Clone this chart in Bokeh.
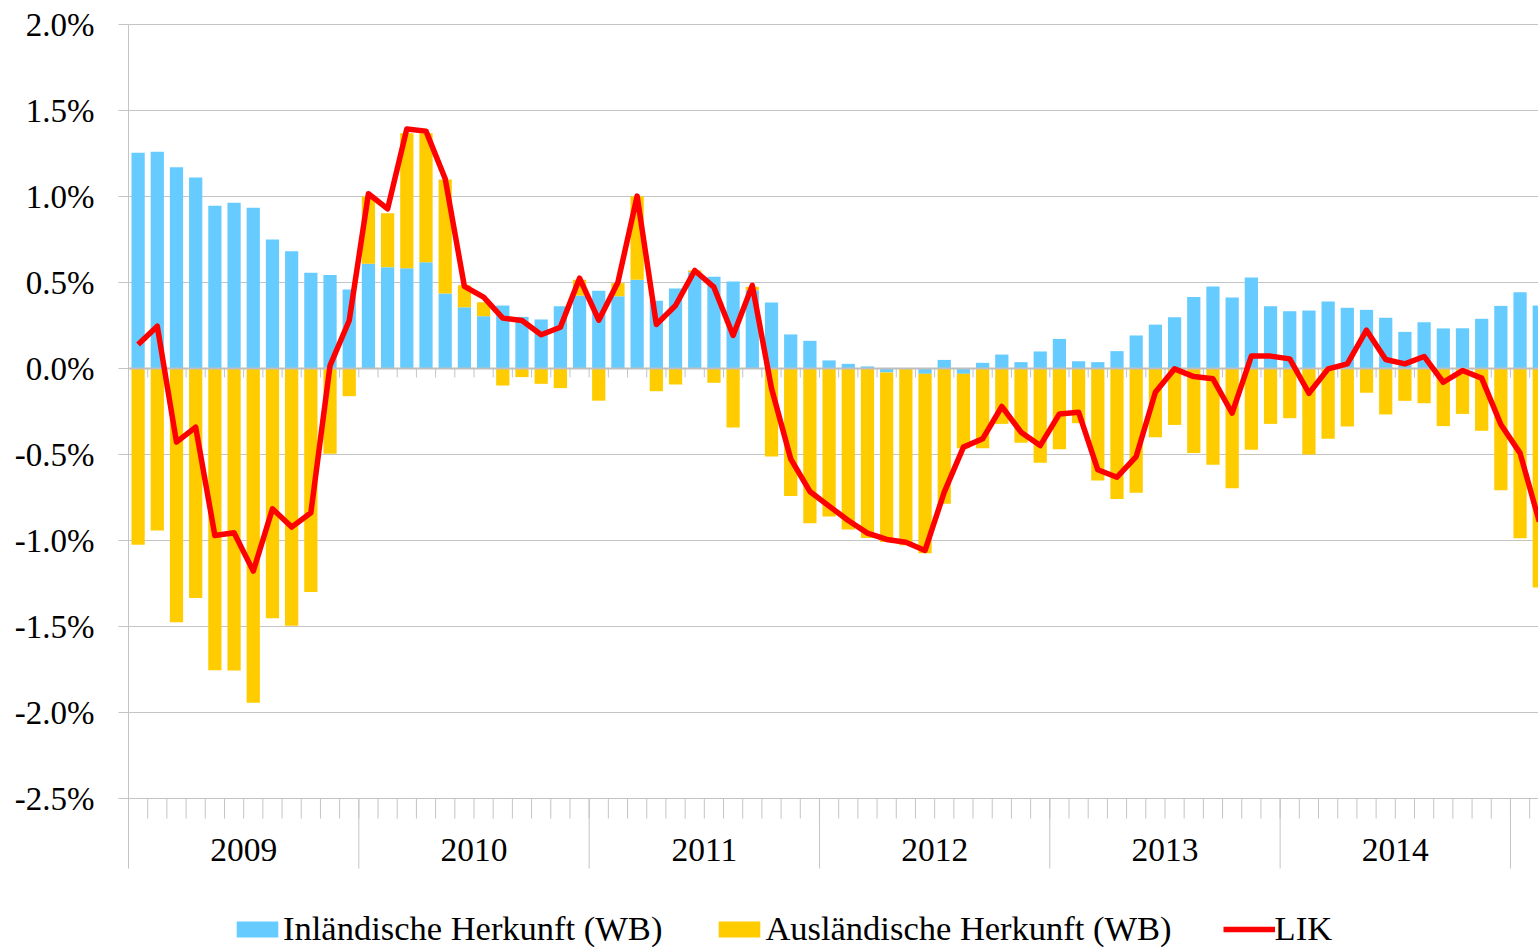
import numpy as np
from bokeh.plotting import figure
from bokeh.models import Range1d, FixedTicker, PrintfTickFormatter, Legend, LegendItem
from bokeh.core.properties import value
from bokeh.embed import file_html
from bokeh.resources import INLINE

# ---------------- data (monthly, Jan 2009 .. Feb 2015, in %) ----------------
years = ["2009", "2010", "2011", "2012", "2013", "2014"]

domestic = [  # Inländische Herkunft (WB)
    1.254, 1.260, 1.170, 1.110, 0.946, 0.963, 0.934, 0.750, 0.682, 0.556, 0.543, 0.459,
    0.609, 0.589, 0.583, 0.618, 0.436, 0.356, 0.304, 0.366, 0.300, 0.285, 0.362, 0.424,
    0.452, 0.420, 0.516, 0.394, 0.465, 0.560, 0.533, 0.506, 0.455, 0.384, 0.198, 0.161,
    0.047, 0.027, 0.012, -0.023, 0.000, -0.031, 0.050, -0.031, 0.033, 0.081, 0.037, 0.099,
    0.172, 0.042, 0.037, 0.101, 0.192, 0.255, 0.298, 0.415, 0.477, 0.413, 0.529, 0.362,
    0.333, 0.337, 0.390, 0.353, 0.341, 0.295, 0.213, 0.269, 0.233, 0.234, 0.289, 0.364,
    0.444, 0.366,
]

foreign = [  # Ausländische Herkunft (WB)
    -1.025, -0.942, -1.475, -1.335, -1.754, -1.756, -1.944, -1.452, -1.496, -1.300, -0.496, -0.161,
    0.391, 0.314, 0.785, 0.750, 0.663, 0.128, 0.081, -0.099, -0.050, -0.089, -0.114, 0.092,
    -0.187, 0.076, 0.486, -0.132, -0.093, 0.010, -0.083, -0.343, 0.020, -0.512, -0.742, -0.899,
    -0.860, -0.936, -0.985, -0.985, -1.027, -1.043, -0.787, -0.432, -0.463, -0.322, -0.432, -0.548,
    -0.469, -0.318, -0.651, -0.758, -0.723, -0.399, -0.328, -0.492, -0.560, -0.696, -0.473, -0.322,
    -0.289, -0.500, -0.409, -0.337, -0.141, -0.267, -0.188, -0.202, -0.335, -0.264, -0.362, -0.708,
    -0.987, -1.273,
]

lik = [  # LIK
    0.140, 0.246, -0.428, -0.341, -0.971, -0.955, -1.178, -0.816, -0.922, -0.839, 0.017, 0.279,
    1.016, 0.928, 1.393, 1.380, 1.103, 0.477, 0.415, 0.293, 0.279, 0.196, 0.240, 0.525,
    0.281, 0.502, 1.002, 0.256, 0.366, 0.570, 0.473, 0.192, 0.483, -0.115, -0.525, -0.715,
    -0.800, -0.884, -0.957, -0.994, -1.010, -1.058, -0.719, -0.457, -0.409, -0.221, -0.370, -0.448,
    -0.264, -0.254, -0.589, -0.632, -0.512, -0.138, -0.002, -0.047, -0.060, -0.260, 0.072, 0.072,
    0.056, -0.144, -0.002, 0.027, 0.223, 0.052, 0.027, 0.070, -0.080, -0.012, -0.056, -0.326,
    -0.492, -0.890,
]

ytick_values = [-2.5, -2.0, -1.5, -1.0, -0.5, 0.0, 0.5, 1.0, 1.5, 2.0]
legend_labels = ["Inländische Herkunft (WB)", "Ausländische Herkunft (WB)", "LIK"]

# ---------------- styles / layout ----------------
BLUE, YELLOW, RED = "#66CCFF", "#FFCC00", "#FF0000"
GRID = "#C4C4C4"
FONT = "Liberation Serif"
PX_PER_UNIT = 172.0          # pixels per 1 %-point
PX_PER_MONTH = 19.194
FIG_W, FIG_H = 1538, 947
LEFT_PAD, TOP_PAD = 128, 22
FRAME_W = FIG_W - LEFT_PAD
X_END = FRAME_W / PX_PER_MONTH
Y_END = ytick_values[-1] + 2 / PX_PER_UNIT
Y_START = Y_END - (FIG_H - TOP_PAD) / PX_PER_UNIT
AX_BOTTOM = ytick_values[0]
MINOR_LEN = 20 / PX_PER_UNIT
SEP_LEN = 70 / PX_PER_UNIT
ZERO_TICK = 9 / PX_PER_UNIT
LABEL_Y = AX_BOTTOM - 51.5 / PX_PER_UNIT

n = len(domestic)
x = np.arange(n) + 0.5
d = np.array(domestic)
f = np.array(foreign)
d_bot = np.minimum(d, 0)
d_top = np.maximum(d, 0)
pos_base = np.maximum(d, 0)
neg_base = np.minimum(d, 0)
f_bot = np.where(f >= 0, pos_base, neg_base + f)
f_top = np.where(f >= 0, pos_base + f, neg_base)

month_edges = np.arange(0, n)
year_edges = np.arange(0, n, 12)
year_mid = np.arange(len(years)) * 12 + 6

p = figure(width=FIG_W, height=FIG_H, output_backend="svg", toolbar_location=None,
           x_range=Range1d(0, X_END), y_range=Range1d(Y_START, Y_END),
           x_axis_location=None, min_border_left=LEFT_PAD, min_border_right=0,
           min_border_top=TOP_PAD, min_border_bottom=0, outline_line_color=None,
           background_fill_color="white", border_fill_color="white")

tick = FixedTicker(ticks=ytick_values)
p.yaxis.ticker = tick
p.yaxis.bounds = (AX_BOTTOM - SEP_LEN, ytick_values[-1])
p.yaxis.formatter = PrintfTickFormatter(format="%.1f%%")
p.yaxis.axis_line_color = GRID
p.yaxis.major_tick_line_color = GRID
p.yaxis.major_tick_out = 10
p.yaxis.major_tick_in = 0
p.yaxis.minor_tick_line_color = None
p.yaxis.major_label_standoff = 24
p.yaxis.major_label_text_font = FONT
p.yaxis.major_label_text_font_size = "33px"
p.yaxis.major_label_text_color = "black"
p.ygrid.ticker = tick
p.ygrid.grid_line_color = GRID
p.xgrid.grid_line_color = None

# category-axis ticks at the bottom and year separators
p.segment(x0=month_edges, y0=[AX_BOTTOM] * n, x1=month_edges, y1=[AX_BOTTOM - MINOR_LEN] * n,
          line_color=GRID, line_width=1)
p.segment(x0=year_edges, y0=[AX_BOTTOM] * len(year_edges), x1=year_edges,
          y1=[AX_BOTTOM - SEP_LEN] * len(year_edges), line_color=GRID, line_width=1)
# small ticks under the zero line
p.segment(x0=month_edges[1:], y0=[0] * (n - 1), x1=month_edges[1:], y1=[-ZERO_TICK] * (n - 1),
          line_color=GRID, line_width=1)

r_blue = p.vbar(x=x, bottom=d_bot, top=d_top, width=0.69, fill_color=BLUE, line_color=None)
r_yel = p.vbar(x=x, bottom=f_bot, top=f_top, width=0.69, fill_color=YELLOW, line_color=None)

p.segment(x0=[0], y0=[0], x1=[X_END], y1=[0], line_color="#BEBEBE", line_width=2)

r_lik = p.line(x=x, y=lik, line_color=RED, line_width=5.5, line_join="round")

p.text(x=year_mid, y=[LABEL_Y] * len(years), text=years, text_font=value(FONT),
       text_font_size="33.5px", text_align="center", text_baseline="middle", text_color="black")

legend = Legend(items=[LegendItem(label=legend_labels[0], renderers=[r_blue]),
                       LegendItem(label=legend_labels[1], renderers=[r_yel]),
                       LegendItem(label=legend_labels[2], renderers=[r_lik])],
                location=(103, -1), orientation="horizontal",
                glyph_width=52, glyph_height=20, label_standoff=0, spacing=51,
                padding=0, margin=0, border_line_color=None, background_fill_alpha=0,
                label_text_font=FONT, label_text_font_size="34.5px", label_text_color="black")
p.add_layout(legend)

open("out.html", "w").write(file_html(p, INLINE))
